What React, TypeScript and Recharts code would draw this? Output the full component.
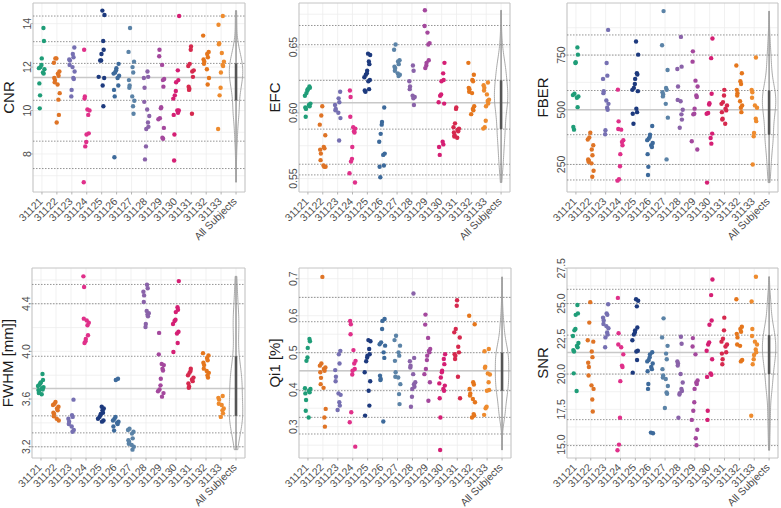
import React from "react";
import {
  ScatterChart,
  Scatter,
  XAxis,
  YAxis,
  CartesianGrid,
  ReferenceLine,
  ReferenceArea,
  Label,
} from "recharts";

const subjects = [
  "31121", "31122", "31123", "31124", "31125", "31126", "31127",
  "31128", "31129", "31130", "31131", "31132", "31133",
];
const tickLabels = [...subjects, "All Subjects"];

const colors = [
  "#1f9d78", "#df7426", "#7670b2", "#e0308a", "#1d3a7e", "#3d6a9b", "#5b83a7",
  "#8a63a9", "#a4489d", "#d51f74", "#d6294e", "#e5761c", "#ee8b2e",
];

// one inner array per subject
const cnr = [
  [13.8, 13.2, 12.4, 12.1, 12.0, 11.95, 11.9, 11.75, 11.7, 11.25, 10.7, 10.1],
  [12.4, 12.4, 12.2, 11.8, 11.7, 11.6, 11.5, 11.4, 11.3, 11.2, 10.8, 10.5, 9.8, 9.45],
  [12.9, 12.6, 12.45, 12.35, 12.3, 12.1, 12.0, 11.8, 11.5, 11.45, 10.95, 10.65],
  [12.8, 10.65, 10.55, 10.05, 10.0, 9.8, 8.95, 8.9, 8.55, 8.35, 6.7],
  [14.6, 14.4, 13.2, 12.8, 12.6, 12.3, 12.3, 11.55, 11.5, 11.15, 10.2],
  [12.15, 11.95, 11.85, 11.75, 11.7, 11.6, 11.5, 11.15, 10.95, 10.65, 7.85],
  [13.8, 12.7, 12.25, 12.0, 11.75, 11.4, 11.15, 11.05, 10.65, 10.45, 10.2, 9.85],
  [11.8, 11.55, 11.5, 11.05, 10.4, 10.05, 9.75, 9.45, 9.25, 9.15, 8.35, 7.75],
  [12.8, 12.5, 12.1, 11.45, 11.4, 11.1, 10.15, 10.1, 9.65, 9.6, 9.2, 8.75, 8.7],
  [14.35, 11.85, 11.4, 11.3, 10.9, 10.7, 10.55, 10.0, 10.0, 9.9, 9.8, 8.9, 7.7],
  [12.95, 12.8, 12.15, 12.05, 11.85, 11.8, 11.55, 11.1, 11.0, 10.95, 9.85],
  [13.45, 12.7, 12.6, 12.45, 12.35, 12.25, 12.15, 11.9, 11.5, 11.2],
  [14.35, 13.95, 13.1, 13.05, 12.65, 12.25, 12.1, 12.05, 11.75, 11.05, 10.7, 9.15],
];

const efc = [
  [0.62, 0.619, 0.618, 0.617, 0.615, 0.613, 0.607, 0.606, 0.605, 0.604, 0.603, 0.597],
  [0.605, 0.598, 0.591, 0.583, 0.574, 0.573, 0.572, 0.569, 0.564, 0.56, 0.559, 0.559],
  [0.616, 0.611, 0.608, 0.606, 0.603, 0.602, 0.6, 0.596, 0.579],
  [0.617, 0.612, 0.597, 0.589, 0.588, 0.586, 0.585, 0.574, 0.565, 0.563, 0.554, 0.547],
  [0.645, 0.644, 0.639, 0.637, 0.632, 0.63, 0.629, 0.627, 0.625, 0.624, 0.618, 0.617, 0.616],
  [0.604, 0.593, 0.591, 0.584, 0.578, 0.569, 0.568, 0.56, 0.559, 0.551],
  [0.652, 0.648, 0.64, 0.639, 0.637, 0.635, 0.634, 0.632, 0.63, 0.629, 0.628],
  [0.636, 0.632, 0.624, 0.62, 0.618, 0.613, 0.612, 0.611, 0.606],
  [0.678, 0.666, 0.661, 0.653, 0.652, 0.64, 0.638, 0.636, 0.634],
  [0.638, 0.63, 0.625, 0.624, 0.614, 0.613, 0.608, 0.607, 0.578, 0.576, 0.574, 0.568],
  [0.604, 0.603, 0.592, 0.589, 0.588, 0.587, 0.586, 0.585, 0.583, 0.582, 0.581],
  [0.638, 0.629, 0.625, 0.624, 0.619, 0.618, 0.616, 0.615, 0.605, 0.603, 0.602, 0.599],
  [0.623, 0.621, 0.619, 0.617, 0.614, 0.61, 0.609, 0.607, 0.605, 0.594, 0.589, 0.588],
];

const fber = [
  [785, 752, 717, 714, 573, 567, 561, 555, 512, 421, 409],
  [395, 373, 364, 338, 318, 292, 273, 267, 262, 255, 221, 194],
  [865, 714, 656, 641, 585, 576, 542, 527, 509, 500, 406, 388],
  [592, 447, 412, 409, 361, 353, 338, 297, 242, 182, 176],
  [812, 752, 667, 661, 641, 618, 600, 591, 585, 505, 489, 482, 436],
  [426, 386, 376, 368, 361, 348, 338, 330, 297, 239, 202],
  [951, 795, 682, 600, 591, 580, 570, 561, 527, 464, 273],
  [833, 697, 686, 606, 545, 539, 500, 479, 455, 418],
  [767, 720, 633, 606, 565, 558, 505, 482, 479, 356, 318],
  [826, 736, 573, 530, 524, 485, 482, 391, 371, 345, 167],
  [591, 565, 535, 527, 520, 505, 497, 489, 459, 455, 436],
  [702, 667, 630, 618, 591, 576, 565, 539, 520, 509, 489],
  [739, 591, 580, 555, 520, 509, 459, 448, 394, 379, 250],
];

const fwhm = [
  [3.81, 3.76, 3.74, 3.735, 3.72, 3.71, 3.7, 3.69, 3.68, 3.675, 3.67, 3.65, 3.64],
  [3.575, 3.56, 3.55, 3.535, 3.52, 3.505, 3.485, 3.475, 3.455, 3.435, 3.42],
  [3.595, 3.465, 3.45, 3.435, 3.41, 3.39, 3.37, 3.34, 3.325],
  [4.63, 4.54, 4.275, 4.26, 4.24, 4.22, 4.135, 4.105, 4.085, 4.07],
  [3.535, 3.52, 3.505, 3.485, 3.475, 3.465, 3.45, 3.435, 3.42, 3.41],
  [3.77, 3.76, 3.45, 3.435, 3.42, 3.41, 3.4, 3.39, 3.37, 3.335],
  [3.35, 3.34, 3.325, 3.31, 3.27, 3.255, 3.24, 3.225, 3.215, 3.2, 3.175],
  [4.56, 4.53, 4.5, 4.47, 4.415, 4.34, 4.32, 4.31, 4.295, 4.23, 4.205],
  [4.155, 3.975, 3.895, 3.885, 3.855, 3.84, 3.77, 3.715, 3.68, 3.665, 3.65, 3.62],
  [4.59, 4.37, 4.35, 4.33, 4.265, 4.255, 4.23, 4.165, 4.15, 4.07, 3.995],
  [3.855, 3.835, 3.82, 3.8, 3.78, 3.765, 3.75, 3.73, 3.705, 3.695],
  [3.985, 3.965, 3.945, 3.925, 3.905, 3.885, 3.855, 3.835, 3.82, 3.8, 3.78],
  [3.625, 3.61, 3.595, 3.56, 3.55, 3.52, 3.505, 3.48, 3.45],
];

const qi1 = [
  [0.537, 0.531, 0.513, 0.487, 0.478, 0.404, 0.402, 0.397, 0.393, 0.39, 0.372, 0.343, 0.325],
  [0.705, 0.471, 0.465, 0.46, 0.456, 0.451, 0.447, 0.432, 0.415, 0.405, 0.348, 0.325, 0.3],
  [0.505, 0.496, 0.471, 0.453, 0.435, 0.423, 0.39, 0.386, 0.366, 0.357, 0.345],
  [0.586, 0.577, 0.55, 0.507, 0.478, 0.471, 0.456, 0.451, 0.441, 0.339, 0.312, 0.246],
  [0.534, 0.531, 0.51, 0.496, 0.492, 0.487, 0.477, 0.447, 0.423, 0.397, 0.357, 0.33],
  [0.591, 0.586, 0.564, 0.528, 0.523, 0.519, 0.501, 0.486, 0.438, 0.429, 0.426, 0.314],
  [0.546, 0.534, 0.519, 0.501, 0.492, 0.478, 0.447, 0.435, 0.433, 0.415, 0.388, 0.361],
  [0.66, 0.486, 0.477, 0.465, 0.46, 0.442, 0.42, 0.415, 0.408, 0.402, 0.381, 0.354],
  [0.603, 0.576, 0.54, 0.51, 0.505, 0.501, 0.492, 0.48, 0.456, 0.442, 0.42, 0.37],
  [0.496, 0.483, 0.469, 0.451, 0.447, 0.433, 0.417, 0.411, 0.402, 0.397, 0.377, 0.325, 0.237],
  [0.642, 0.627, 0.564, 0.555, 0.541, 0.516, 0.501, 0.496, 0.492, 0.483, 0.435, 0.377],
  [0.6, 0.577, 0.42, 0.414, 0.402, 0.39, 0.384, 0.375, 0.366, 0.334, 0.33, 0.325],
  [0.51, 0.504, 0.462, 0.459, 0.444, 0.441, 0.42, 0.399, 0.397, 0.354, 0.35, 0.332],
];

const snr = [
  [24.9, 24.3, 24.2, 23.2, 23.1, 22.7, 22.2, 22.0, 21.9, 21.7, 21.6, 20.05, 18.8],
  [25.1, 23.65, 22.4, 22.3, 21.6, 21.2, 20.8, 20.5, 19.9, 19.2, 18.95, 18.2, 17.35],
  [24.95, 24.3, 24.2, 24.0, 23.8, 23.55, 23.4, 23.25, 22.95, 22.8, 22.6, 21.9],
  [25.4, 22.9, 22.1, 21.9, 21.4, 20.6, 20.5, 19.5, 16.9, 15.0, 14.6],
  [25.3, 25.2, 24.8, 23.3, 23.1, 22.95, 22.8, 22.4, 21.65, 21.6, 21.0, 20.1],
  [21.55, 21.4, 21.2, 21.0, 20.9, 20.75, 20.5, 20.35, 20.2, 19.3, 18.95, 15.85, 15.8],
  [23.95, 22.6, 22.0, 21.45, 21.05, 20.35, 19.9, 19.75, 19.65, 19.15, 18.7, 18.6, 17.6],
  [22.65, 22.15, 20.9, 20.75, 20.6, 20.0, 19.4, 18.95, 18.8, 18.65, 18.55, 16.9],
  [22.55, 21.95, 21.4, 19.55, 19.4, 19.3, 18.95, 18.0, 17.4, 16.75, 16.05, 15.45, 14.95],
  [26.7, 25.6, 23.8, 23.5, 22.25, 22.1, 21.65, 21.05, 20.05, 19.95, 19.8, 17.4, 16.75],
  [24.0, 23.1, 22.5, 22.3, 22.1, 21.95, 21.55, 21.45, 21.05, 20.7],
  [25.3, 23.35, 23.2, 23.0, 22.85, 22.6, 22.1, 22.0, 21.0, 20.9],
  [26.9, 25.15, 23.2, 22.7, 22.3, 22.1, 21.75, 21.55, 21.35, 21.05, 20.7, 17.05],
];

// horizontal dotted lines and the solid centre line
const cnrRefs = [14.35, 13.17, 12.17, 10.47, 8.59, 7.33];
const efcRefs = [0.6664, 0.6518, 0.6247, 0.5876, 0.5609, 0.5528];
const fberRefs = [842, 750, 588, 386, 250, 179];
const fwhmRefs = [4.562, 4.4, 3.959, 3.459, 3.316, 3.199];
const qi1Refs = [0.6495, 0.5838, 0.5, 0.3973, 0.3252, 0.2802];
const snrRefs = [26.01, 25.0, 22.76, 20.0, 16.77, 14.93];
const centreLines = [11.52, 0.6076, 500, 3.688, 0.4514, 21.53];

const cnrTicks = [8, 10, 12, 14];
const efcTicks = [0.55, 0.6, 0.65];
const fberTicks = [250, 500, 750];
const fwhmTicks = [3.2, 3.6, 4.0, 4.4];
const qi1Ticks = [0.3, 0.4, 0.5, 0.6, 0.7];
const snrTicks = [15, 17.5, 20, 22.5, 25, 27.5];

const FONT = "'Liberation Sans', Arial, Helvetica, sans-serif";
const JITTER = [-2.2, 1.5, -0.5, 2.5, -2.6, 0.7, 2.0, -1.5, 1.0, -1.9, 2.8, -0.2, -3.0, 1.7];
const X_TICKS = tickLabels.map((_, i) => i + 1);

function Dot(props: any) {
  const { cx, cy, fill, payload } = props;
  if (cx == null || cy == null) return <g />;
  const dx = JITTER[(payload.k * 5 + payload.x) % JITTER.length];
  return <circle cx={cx + dx} cy={cy} r={2.2} fill={fill} />;
}

function NoDot() {
  return <g />;
}

function makeXTick(plotBottom: number) {
  return function XTick(props: any) {
    const { x, payload } = props;
    return (
      <text
        x={0}
        y={0}
        transform={`translate(${x + 1.5} ${plotBottom + 10}) rotate(-45)`}
        textAnchor="end"
        fontSize={10.5}
        fontFamily={FONT}
        fill="#4d4d4d"
      >
        {tickLabels[payload.value - 1]}
      </text>
    );
  };
}

function makeYTick(decimals: number, plotLeft: number) {
  return function YTick(props: any) {
    const { y, payload } = props;
    const x = plotLeft - 2;
    return (
      <text
        x={x}
        y={y}
        transform={`rotate(-90 ${x} ${y})`}
        textAnchor="middle"
        fontSize={10.5}
        fontFamily={FONT}
        fill="#4d4d4d"
      >
        {Number(payload.value).toFixed(decimals)}
      </text>
    );
  };
}

// gaussian kernel density of the pooled values (like a trimmed violin)
function violin(values: number[], centre: number, halfWidth: number) {
  const n = values.length;
  const s = [...values].sort((a, b) => a - b);
  const mean = s.reduce((a, b) => a + b, 0) / n;
  const sd = Math.sqrt(s.reduce((a, b) => a + (b - mean) ** 2, 0) / (n - 1));
  const q = (p: number) => {
    const h = (n - 1) * p;
    const lo = Math.floor(h);
    return s[lo] + (h - lo) * ((s[lo + 1] ?? s[lo]) - s[lo]);
  };
  const bw = 0.9 * Math.min(sd, (q(0.75) - q(0.25)) / 1.34) * Math.pow(n, -0.2);
  const lo = s[0];
  const hi = s[n - 1];
  const steps = 90;
  const dens: { y: number; d: number }[] = [];
  for (let i = 0; i <= steps; i++) {
    const y = lo + ((hi - lo) * i) / steps;
    let d = 0;
    for (const v of s) {
      const z = (y - v) / bw;
      d += Math.exp(-0.5 * z * z);
    }
    dens.push({ y, d });
  }
  const max = Math.max(...dens.map((p) => p.d));
  const right = dens.map((p) => ({ x: centre + (halfWidth * p.d) / max, y: p.y }));
  const left = [...dens].reverse().map((p) => ({ x: centre - (halfWidth * p.d) / max, y: p.y }));
  return { outline: [...right, ...left, right[0]], min: lo, max: hi };
}

interface PanelProps {
  title: string;
  values: number[][];
  ticks: number[];
  refs: number[];
  centre: number;
  domain: [number, number];
  decimals: number;
  left: number;
  top: number;
  width: number;
  plotLeft: number;
  plotRight: number;
  plotTop: number;
  plotBottom: number;
  titleX: number;
}

function Panel(p: PanelProps) {
  const height = 254;
  const all = p.values.flat();
  const v = violin(all, 14, 0.45);
  const step = p.ticks[1] - p.ticks[0];
  const gridValues: number[] = [];
  for (let i = -1; i < p.ticks.length; i++) {
    const base = i < 0 ? p.ticks[0] - step : p.ticks[i];
    if (i >= 0) gridValues.push(base);
    const mid = base + step / 2;
    if (mid > p.domain[0] && mid < p.domain[1]) gridValues.push(mid);
  }
  const YTick = makeYTick(p.decimals, p.plotLeft);
  const XTick = makeXTick(p.plotBottom);
  const titleY = (p.plotTop + p.plotBottom) / 2;

  return (
    <div style={{ position: "absolute", left: p.left, top: p.top }}>
      <ScatterChart
        width={p.width}
        height={height}
        margin={{ top: p.plotTop, right: p.width - p.plotRight, bottom: 0, left: 0 }}
      >
        <CartesianGrid stroke="#ededed" strokeWidth={0.8} horizontalValues={gridValues} />
        <XAxis
          type="number"
          dataKey="x"
          domain={[0.4, 14.6]}
          ticks={X_TICKS}
          interval={0}
          allowDataOverflow
          height={height - p.plotBottom}
          axisLine={false}
          tickLine={{ stroke: "#b3b3b3" }}
          tickSize={2.5}
          tick={<XTick />}
        />
        <YAxis
          type="number"
          dataKey="y"
          domain={p.domain}
          ticks={p.ticks}
          interval={0}
          allowDataOverflow
          width={p.plotLeft}
          axisLine={false}
          tickLine={{ stroke: "#b3b3b3" }}
          tickSize={2.5}
          tick={<YTick />}
        >
          <Label
            content={() => (
              <text
                x={p.titleX}
                y={titleY}
                transform={`rotate(-90 ${p.titleX} ${titleY})`}
                textAnchor="middle"
                fontSize={15}
                fontFamily={FONT}
                fill="#1a1a1a"
              >
                {p.title}
              </text>
            )}
          />
        </YAxis>
        <ReferenceLine y={p.centre} stroke="#c8c8c8" strokeWidth={1.5} />
        {p.refs.map((r, i) => (
          <ReferenceLine key={i} y={r} stroke="#7a7a7a" strokeWidth={0.8} strokeDasharray="1.5 1.5" />
        ))}
        {p.values.map((vals, s) => (
          <Scatter
            key={subjects[s]}
            data={vals.map((y, k) => ({ x: s + 1, y, k }))}
            fill={colors[s]}
            shape={<Dot />}
            isAnimationActive={false}
          />
        ))}
        <Scatter
          data={v.outline}
          line={{ stroke: "#a0a0a0", strokeWidth: 0.9 }}
          lineType="joint"
          shape={<NoDot />}
          isAnimationActive={false}
        />
        <ReferenceLine
          segment={[{ x: 14, y: v.min }, { x: 14, y: v.max }]}
          stroke="#6e6e6e"
          strokeWidth={1}
        />
        <ReferenceLine
          segment={[{ x: 14, y: p.refs[2] }, { x: 14, y: p.refs[3] }]}
          stroke="#555555"
          strokeWidth={2.6}
        />
        <ReferenceArea
          x1={0.4}
          x2={14.6}
          y1={p.domain[0]}
          y2={p.domain[1]}
          fill="none"
          fillOpacity={0}
          stroke="#c4c4c4"
          strokeWidth={1}
        />
      </ScatterChart>
    </div>
  );
}

export default function App() {
  return (
    <div style={{ position: "absolute", left: 0, top: 0, width: 781, height: 508, background: "#fff" }}>
      <Panel title="CNR" values={cnr} ticks={cnrTicks} refs={cnrRefs} centre={centreLines[0]}
        domain={[6.25, 14.95]} decimals={0} left={0} top={0} width={260}
        plotLeft={33} plotRight={245} plotTop={3} plotBottom={192} titleX={14} />
      <Panel title="EFC" values={efc} ticks={efcTicks} refs={efcRefs} centre={centreLines[1]}
        domain={[0.5398, 0.6835]} decimals={2} left={260} top={0} width={260}
        plotLeft={39} plotRight={250} plotTop={3} plotBottom={192} titleX={20} />
      <Panel title="FBER" values={fber} ticks={fberTicks} refs={fberRefs} centre={centreLines[2]}
        domain={[124, 988]} decimals={0} left={520} top={0} width={261}
        plotLeft={47} plotRight={258} plotTop={3} plotBottom={192} titleX={28} />
      <Panel title="FWHM [mm]]" values={fwhm} ticks={fwhmTicks} refs={fwhmRefs} centre={centreLines[3]}
        domain={[3.105, 4.7]} decimals={1} left={0} top={254} width={260}
        plotLeft={32} plotRight={245} plotTop={14} plotBottom={204} titleX={13} />
      <Panel title="Qi1 [%]" values={qi1} ticks={qi1Ticks} refs={qi1Refs} centre={centreLines[4]}
        domain={[0.2153, 0.729]} decimals={1} left={260} top={254} width={260}
        plotLeft={39} plotRight={251} plotTop={14} plotBottom={204} titleX={20} />
      <Panel title="SNR" values={snr} ticks={snrTicks} refs={snrRefs} centre={centreLines[5]}
        domain={[14.05, 27.52]} decimals={1} left={520} top={254} width={261}
        plotLeft={47} plotRight={258} plotTop={14} plotBottom={204} titleX={28} />
    </div>
  );
}
